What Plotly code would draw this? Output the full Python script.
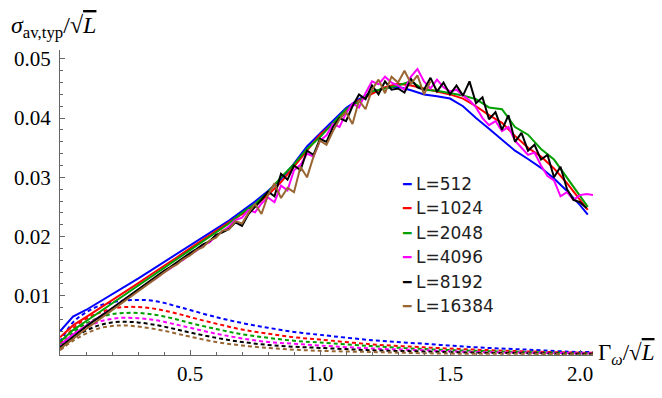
import numpy as np
import plotly.graph_objects as go

# ---------------- data ----------------
NAMES = ["L=512", "L=1024", "L=2048", "L=4096", "L=8192", "L=16384"]
COLORS = ["#0000ff", "#ff0000", "#00a000", "#ff00ff", "#000000", "#996633"]

X_A = [0.00, 0.05, 0.10, 0.15, 0.20, 0.25, 0.30, 0.35, 0.40, 0.45, 0.50, 0.55, 0.60, 0.65,
       0.70, 0.75, 0.80, 0.85, 0.90, 0.95, 1.00, 1.05, 1.10, 1.15, 1.20, 1.25, 1.30, 1.35,
       1.40, 1.45, 1.50, 1.55, 1.60, 1.65, 1.70, 1.75, 1.80, 1.85, 1.90, 1.95, 2.00, 2.03]

Y_512 = [.0040, .0065, .0076, .0089, .0102, .0115, .0129, .0143, .0157, .0171, .0185, .0199,
         .0213, .0227, .0243, .0259, .0277, .0297, .0323, .0352, .0374, .0395, .0417, .0432,
         .0444, .0451, .0453, .0447, .0440, .0437, .0433, .0420, .0400, .0382, .0363, .0345,
         .0331, .0316, .0298, .0277, .0253, .0237]
Y_1024 = [.0030, .0050, .0064, .0078, .0092, .0106, .0121, .0136, .0150, .0165, .0180, .0195,
          .0209, .0224, .0238, .0252, .0270, .0292, .0318, .0345, .0372, .0390, .0412, .0430,
          .0441, .0452, .0458, .0455, .0450, .0445, .0440, .0433, .0420, .0405, .0392, .0370,
          .0350, .0335, .0315, .0290, .0262, .0245]
Y_2048 = [.0022, .0042, .0057, .0072, .0087, .0102, .0117, .0133, .0148, .0163, .0178, .0193,
          .0208, .0222, .0240, .0255, .0275, .0300, .0322, .0348, .0368, .0392, .0415, .0428,
          .0445, .0450, .0455, .0462, .0448, .0446, .0442, .0438, .0432, .0418, .0415, .0385,
          .0372, .0348, .0330, .0300, .0270, .0250]

X_B = [0.000, 0.025, 0.050, 0.075, 0.100, 0.125, 0.150, 0.175, 0.200, 0.225, 0.250, 0.275,
       0.300, 0.325, 0.350, 0.375, 0.400, 0.425, 0.450, 0.475, 0.500, 0.525, 0.550, 0.575,
       0.600, 0.625, 0.650, 0.675, 0.700, 0.725, 0.750, 0.775, 0.800, 0.825, 0.850, 0.875,
       0.900, 0.925, 0.950, 0.975, 1.000, 1.025, 1.050, 1.075, 1.100, 1.125, 1.150, 1.175,
       1.200, 1.225, 1.250, 1.275, 1.300, 1.325, 1.350, 1.375, 1.400, 1.425, 1.450, 1.475,
       1.500, 1.525, 1.550, 1.575, 1.600, 1.625, 1.650, 1.675, 1.700, 1.725, 1.750, 1.775,
       1.800, 1.825, 1.850, 1.875, 1.900, 1.925, 1.950, 1.975, 2.000, 2.025, 2.050]

Y_4096 = [.0017, .0026, .0035, .0042, .0050, .0057, .0064, .0071, .0079, .0086, .0094, .0101,
          .0109, .0117, .0124, .0131, .0140, .0146, .0155, .0161, .0170, .0176, .0186, .0190,
          .0201, .0209, .0217, .0228, .0232, .0245, .0241, .0256, .0266, .0258, .0286, .0278,
          .0312, .0321, .0340, .0335, .0362, .0371, .0390, .0385, .0408, .0425, .0418, .0442,
          .0462, .0457, .0470, .0460, .0455, .0448, .0470, .0483, .0462, .0450, .0465, .0452,
          .0445, .0448, .0438, .0430, .0418, .0400, .0388, .0395, .0378, .0385, .0362, .0350,
          .0338, .0342, .0320, .0302, .0295, .0268, .0275, .0262, .0270, .0272, .0270]
Y_8192 = [.0013, .0022, .0031, .0040, .0048, .0056, .0063, .0071, .0079, .0087, .0095, .0103,
          .0110, .0118, .0126, .0134, .0142, .0149, .0157, .0164, .0172, .0179, .0187, .0192,
          .0203, .0207, .0213, .0224, .0218, .0238, .0250, .0262, .0276, .0268, .0306, .0296,
          .0320, .0312, .0345, .0338, .0365, .0360, .0385, .0400, .0395, .0420, .0440, .0432,
          .0455, .0440, .0462, .0448, .0450, .0443, .0466, .0452, .0448, .0468, .0445, .0460,
          .0440, .0455, .0438, .0462, .0425, .0435, .0398, .0410, .0380, .0405, .0360, .0375,
          .0345, .0355, .0330, .0338, .0300, .0318, .0280, .0262, .0258, .0248]
Y_16384 = [.0010, .0018, .0027, .0036, .0044, .0052, .0060, .0068, .0076, .0084, .0092, .0100,
           .0107, .0115, .0123, .0131, .0139, .0147, .0153, .0162, .0168, .0177, .0182, .0193,
           .0198, .0210, .0212, .0226, .0222, .0240, .0255, .0238, .0270, .0290, .0265, .0282,
           .0275, .0318, .0300, .0335, .0362, .0355, .0378, .0398, .0410, .0390, .0430, .0415,
           .0448, .0465, .0442, .0470, .0460, .0480, .0458, .0472, .0440, .0462]

X_D = [0.00, 0.05, 0.10, 0.15, 0.20, 0.25, 0.30, 0.35, 0.40, 0.45, 0.50, 0.60, 0.70, 0.80,
       0.90, 1.00, 1.20, 1.40, 1.60, 1.80, 2.00, 2.05]
D_512 = [.0022, .0055, .0072, .0083, .0089, .0092, .0093, .0092, .0088, .0082, .0076, .0064,
         .0054, .0046, .0039, .0034, .0025, .0019, .0013, .0009, .0005, .0005]
D_1024 = [.0018, .0045, .0061, .0071, .0078, .0081, .0081, .0079, .0075, .0070, .0064, .0053,
          .0043, .0036, .0030, .0026, .0018, .0013, .0009, .0006, .0004, .0004]
D_2048 = [.0015, .0038, .0053, .0063, .0069, .0071, .0071, .0069, .0065, .0060, .0054, .0044,
          .0035, .0029, .0024, .0021, .0015, .0010, .0007, .0005, .0003, .0003]
D_4096 = [.0012, .0032, .0046, .0056, .0061, .0063, .0062, .0060, .0056, .0051, .0046, .0036,
          .0028, .0022, .0019, .0016, .0011, .0008, .0005, .0004, .0003, .0003]
D_8192 = [.0010, .0028, .0041, .0050, .0055, .0056, .0055, .0052, .0048, .0043, .0038, .0029,
          .0022, .0017, .0014, .0012, .0008, .0006, .0004, .0003, .0002, .0002]
D_16384 = [.0008, .0024, .0036, .0045, .0049, .0050, .0048, .0045, .0041, .0036, .0031, .0022,
           .0016, .0012, .0009, .0007, .0005, .0003, .0002, .0002, .0001, .0001]

SOLID = [(X_A, Y_512), (X_A, Y_1024), (X_A, Y_2048), (X_B, Y_4096), (X_B, Y_8192),
         (X_B[:len(Y_16384)], Y_16384)]
DASHED = [D_512, D_1024, D_2048, D_4096, D_8192, D_16384]

XTICKS = [0.5, 1.0, 1.5, 2.0]
XTICKTEXT = ["0.5", "1.0", "1.5", "2.0"]
YTICKS = [0.01, 0.02, 0.03, 0.04, 0.05]
YTICKTEXT = ["0.01", "0.02", "0.03", "0.04", "0.05"]

# ---------------- figure ----------------
fig = go.Figure()
for d, c, n in zip(DASHED, COLORS, NAMES):
    fig.add_trace(go.Scatter(x=X_D, y=d, mode="lines", line=dict(color=c, width=2, dash="4px,3px", shape="spline"),
                             showlegend=False, hoverinfo="skip"))
for (xs, ys), c, n in zip(SOLID, COLORS, NAMES):
    fig.add_trace(go.Scatter(x=xs, y=ys, mode="lines", name=n, line=dict(color=c, width=2),
                             showlegend=False))

W, H = 662, 398
L_, R_, T_, B_ = 60, 69, 50, 24
pw, ph = W - L_ - R_, H - T_ - B_

def px(p):
    return (p - L_) / pw

def py(q):
    return (H - B_ - q) / ph

SERIF = "Liberation Serif, Times New Roman, serif"
axcol = "#666666"
tickfont = dict(family=SERIF, size=21, color="black")
fig.update_layout(
    width=W, height=H, margin=dict(l=L_, r=R_, t=T_, b=B_),
    font=dict(family=SERIF, size=21, color="black"),
    plot_bgcolor="white", paper_bgcolor="white", showlegend=False,
)
fig.update_xaxes(range=[0, 2.05], tickmode="array", tickvals=XTICKS, ticktext=XTICKTEXT,
                 ticks="inside", ticklen=5, tickcolor=axcol, showline=True, linecolor=axcol,
                 linewidth=1, showgrid=False, zeroline=False, tickfont=tickfont,
                 minor=dict(ticks="inside", ticklen=3, dtick=0.1, tick0=0, tickcolor=axcol, showgrid=False))
fig.update_yaxes(range=[0, 0.0515], tickmode="array", tickvals=YTICKS, ticktext=YTICKTEXT,
                 ticks="inside", ticklen=5, tickcolor=axcol, showline=True, linecolor=axcol,
                 linewidth=1, showgrid=False, zeroline=False, tickfont=tickfont, ticklabelstandoff=4,
                 minor=dict(ticks="inside", ticklen=3, dtick=0.002, tick0=0, tickcolor=axcol, showgrid=False))

ann = []
ann.append(dict(xref="paper", yref="paper", x=px(9), y=py(26), xanchor="left", yanchor="middle",
                showarrow=False,
                text="<i>σ</i><sub>av,typ</sub>/√<span style='text-decoration:overline'><i>L</i></span>",
                font=dict(family=SERIF, size=24, color="black")))
ann.append(dict(xref="paper", yref="paper", x=px(596), y=py(373), xanchor="left", yanchor="middle",
                showarrow=False,
                text="Γ<sub><i>ω</i></sub>/√<span style='text-decoration:overline'><i>L</i></span>",
                font=dict(family=SERIF, size=23, color="black")))
for i, (n, c) in enumerate(zip(NAMES, COLORS)):
    yc = 192 + 26 * i
    ann.append(dict(xref="paper", yref="paper", x=px(400), y=py(yc), xanchor="left", yanchor="middle",
                    showarrow=False, text="━", font=dict(family="DejaVu Sans", size=14, color=c)))
    ann.append(dict(xref="paper", yref="paper", x=px(414), y=py(yc), xanchor="left", yanchor="middle",
                    showarrow=False, text=n, font=dict(family="DejaVu Sans", size=17, color="#222222")))
fig.update_layout(annotations=ann)

fig.write_html("out.html")
